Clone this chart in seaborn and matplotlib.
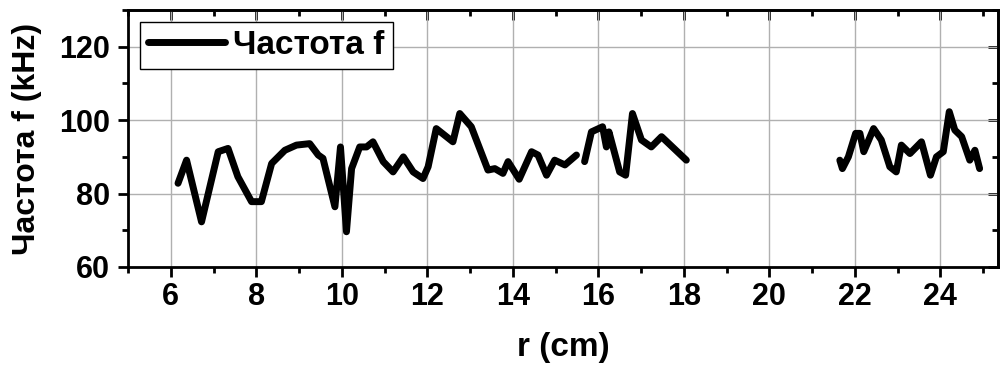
import numpy as np
import pandas as pd
import matplotlib
matplotlib.use("Agg")
import matplotlib.pyplot as plt
import seaborn as sns
from matplotlib.ticker import MultipleLocator

# radius (cm) and frequency (kHz), three measured segments
r_seg1 = [6.17, 6.37, 6.72, 7.11, 7.34, 7.57, 7.89, 8.12, 8.36, 8.67, 8.94, 9.25, 9.45,
          9.56, 9.84, 9.97, 10.11, 10.23, 10.42, 10.58, 10.73, 10.97, 11.2, 11.44, 11.67,
          11.9, 12.02, 12.21, 12.6, 12.76, 13.03, 13.42, 13.58, 13.77, 13.89, 14.15,
          14.44, 14.59, 14.79, 14.98, 15.22, 15.49]
f_seg1 = [82.8, 89.1, 72.3, 91.4, 92.3, 84.6, 77.8, 77.8, 88.2, 91.8, 93.2, 93.6, 90.5,
          89.6, 76.4, 92.7, 69.6, 86.8, 92.7, 92.7, 94.1, 88.7, 85.9, 90.0, 85.9,
          84.1, 87.3, 97.7, 94.1, 101.8, 98.2, 86.4, 86.8, 85.5, 88.7, 83.9,
          91.4, 90.5, 85.0, 89.1, 87.8, 90.5]

r_seg2 = [15.68, 15.84, 16.1, 16.19, 16.25, 16.5, 16.64, 16.8, 17.01, 17.24, 17.48, 18.06]
f_seg2 = [88.7, 96.8, 98.2, 92.7, 96.8, 85.9, 85.0, 101.8, 94.6, 92.7, 95.5, 89.1]

r_seg3 = [21.65, 21.71, 21.85, 22.02, 22.12, 22.21, 22.44, 22.62, 22.82, 22.97, 23.09,
          23.29, 23.56, 23.77, 23.91, 24.07, 24.21, 24.34, 24.5, 24.69, 24.81, 24.92]
f_seg3 = [89.1, 86.8, 90.0, 96.4, 96.4, 91.4, 97.7, 94.6, 87.3, 85.9, 93.2,
          90.9, 94.1, 85.0, 90.0, 91.4, 102.3, 97.3, 95.5, 89.1, 91.8, 86.8]

df = pd.DataFrame({
    "r": r_seg1 + r_seg2 + r_seg3,
    "f": f_seg1 + f_seg2 + f_seg3,
    "seg": [1] * len(r_seg1) + [2] * len(r_seg2) + [3] * len(r_seg3),
})

sns.set_style("ticks")
plt.rcParams["font.family"] = ["Liberation Sans", "DejaVu Sans"]
plt.rcParams["font.weight"] = "bold"
for key in ["text.color", "axes.labelcolor", "xtick.color", "ytick.color"]:
    plt.rcParams[key] = "black"

fig, ax = plt.subplots(figsize=(10.05, 3.65), dpi=100)
fig.subplots_adjust(left=128 / 1005, right=998 / 1005, bottom=1 - 267 / 365, top=1 - 10 / 365)

sns.lineplot(data=df, x="r", y="f", units="seg", estimator=None, color="black",
             linewidth=5, sort=False, ax=ax, label="Частота f")

ax.set_xlim(5, 25.35)
ax.set_ylim(60, 130)
ax.xaxis.set_major_locator(MultipleLocator(2))
ax.xaxis.set_minor_locator(MultipleLocator(1))
ax.yaxis.set_major_locator(MultipleLocator(20))
ax.yaxis.set_minor_locator(MultipleLocator(10))

ax.grid(True, which="major", color="#b0b0b0", linewidth=1)
ax.set_axisbelow(True)

for s in ax.spines.values():
    s.set_visible(True)
    s.set_linewidth(2)
    s.set_color("black")

ax.tick_params(which="both", direction="out", width=2, labelsize=22)
ax.tick_params(axis="y", pad=6)
ax.tick_params(axis="x", pad=4)
ax.tick_params(which="major", length=7)
ax.tick_params(which="minor", length=4)

# mirrored ticks on top/right point inward
sec_x = ax.secondary_xaxis("top")
sec_x.set_xticks(np.arange(6, 26, 2))
sec_x.xaxis.set_minor_locator(MultipleLocator(1))
sec_x.tick_params(which="both", direction="in", width=2, labeltop=False)
sec_x.tick_params(which="major", length=7)
sec_x.tick_params(which="minor", length=4)
sec_x.spines["top"].set_linewidth(2)
sec_y = ax.secondary_yaxis("right")
sec_y.set_yticks([60, 80, 100, 120])
sec_y.yaxis.set_minor_locator(MultipleLocator(10))
sec_y.tick_params(which="both", direction="in", width=2, labelright=False)
sec_y.tick_params(which="major", length=7)
sec_y.tick_params(which="minor", length=4)
sec_y.spines["right"].set_linewidth(2)

for lab in ax.get_xticklabels() + ax.get_yticklabels():
    lab.set_fontweight("bold")

ax.set_xlabel("r (cm)", fontsize=24, fontweight="bold", labelpad=14)
ax.set_ylabel("Частота f (kHz)", fontsize=23, fontweight="bold", labelpad=12)

handles, labels = ax.get_legend_handles_labels()
leg = ax.legend(handles[:1], labels[:1], loc="upper left", fontsize=24, frameon=True,
                fancybox=False, handlelength=2.3, handletextpad=0.25, borderpad=0.25,
                borderaxespad=0.35, edgecolor="black", framealpha=1)
leg.get_frame().set_linewidth(1)
for t in leg.get_texts():
    t.set_fontweight("bold")

plt.savefig("out.png", dpi=100)
